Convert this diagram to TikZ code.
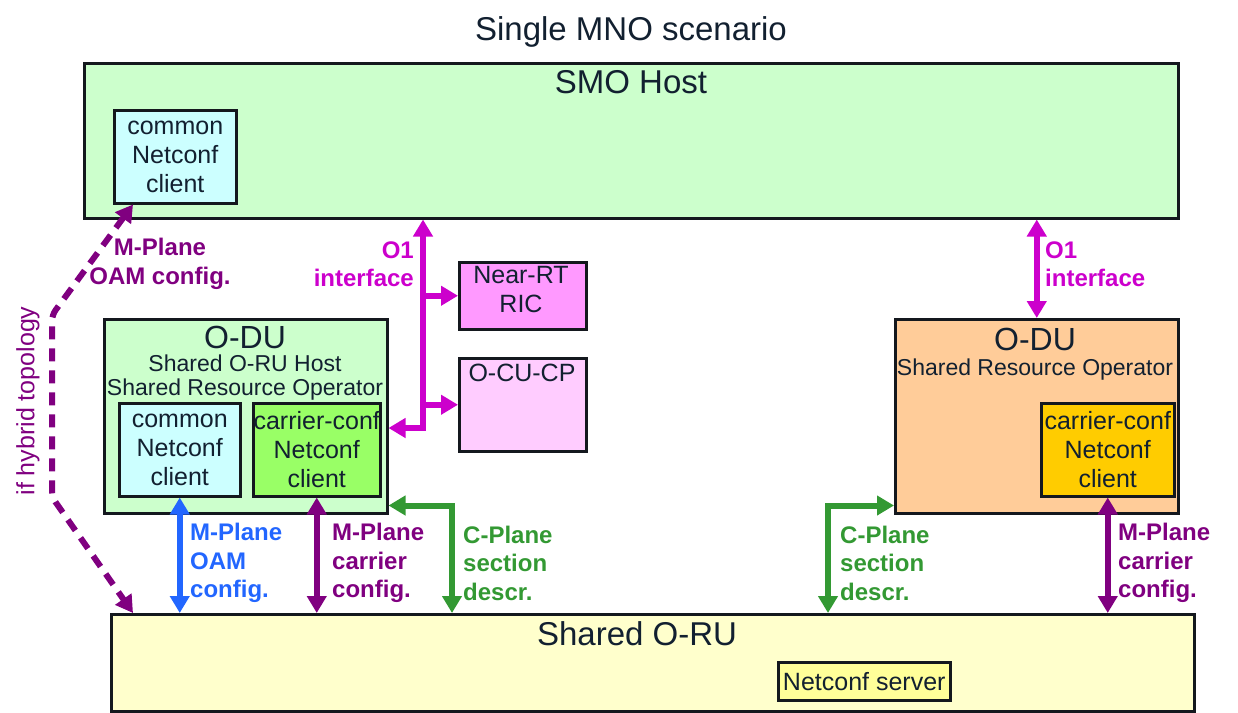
\documentclass[tikz,border=0pt]{standalone}
\usepackage{fontspec}
\setmainfont{Liberation Sans}
\usetikzlibrary{arrows.meta}
\definecolor{txt}{RGB}{18,32,48}
\definecolor{boxline}{RGB}{20,24,30}
\definecolor{mag}{RGB}{204,0,204}
\definecolor{plum}{RGB}{128,0,128}
\definecolor{blu}{RGB}{34,102,255}
\definecolor{grn}{RGB}{51,153,51}
\definecolor{fgreen}{RGB}{204,255,204}
\definecolor{fcyan}{RGB}{204,255,255}
\definecolor{flime}{RGB}{153,255,102}
\definecolor{fpink}{RGB}{255,153,255}
\definecolor{flpink}{RGB}{255,204,255}
\definecolor{forange}{RGB}{255,204,153}
\definecolor{fgold}{RGB}{255,204,0}
\definecolor{fcream}{RGB}{255,255,204}
\definecolor{fyellow}{RGB}{255,255,153}
\newcommand{\fsbig}{\fontsize{33}{38}\selectfont}
\newcommand{\fsodu}{\fontsize{32}{36}\selectfont}
\newcommand{\fsbox}{\fontsize{25}{29}\selectfont}
\newcommand{\fssub}{\fontsize{23}{24}\selectfont}
\newcommand{\fslab}{\fontsize{24}{28.5}\selectfont\bfseries}
\tikzset{
  box/.style={draw=boxline, line width=2.5pt, inner sep=0pt, text=txt, align=center, anchor=north west},
  txtnode/.style={inner sep=0pt, text=txt, align=center},
  lab/.style={inner sep=0pt, font=\fslab},
  dbl/.style={line width=6pt, >={Triangle[length=17pt,width=19pt]}, <->},
  sgl/.style={line width=6pt, >={Triangle[length=17pt,width=19pt]}, ->},
}
\begin{document}
\begin{tikzpicture}[x=1pt,y=-1pt]
\useasboundingbox (0,0) rectangle (1238,712);

% title
\node[txtnode, font=\fsbig] (title) at (631,32) {Single MNO scenario};

% SMO host
\node[box, fill=fgreen, minimum width=1094pt, minimum height=155pt] (smo) at (83,62) {};
\node[txtnode, font=\fsbig] (smolab) at (631,82) {SMO Host};
\node[box, fill=fcyan, minimum width=122pt, minimum height=93pt, font=\fsbox] (smoc) at (113,109) {common\\Netconf\\client};

% RIC and CU
\node[box, fill=fpink, minimum width=127pt, minimum height=67pt] (ric) at (458,261) {};
\node[txtnode, font=\fsbox] (riclab) at (521,290) {Near-RT\\RIC};
\node[box, fill=flpink, minimum width=127pt, minimum height=93pt] (cu) at (458,357) {};
\node[txtnode, font=\fsbox] (culab) at (522,373) {O-CU-CP};

% left O-DU
\node[box, fill=fgreen, minimum width=283pt, minimum height=194pt] (oduL) at (103,318) {};
\node[txtnode, font=\fsodu] (oduLlab) at (245,337) {O-DU};
\node[txtnode, font=\fssub] (oduLsub) at (245,378) {Shared O-RU Host\\Shared Resource Operator};
\node[box, fill=fcyan, minimum width=121pt, minimum height=93pt, font=\fsbox] (oducL) at (118,402) {common\\Netconf\\client};
\node[box, fill=flime, minimum width=127pt, minimum height=93pt, font=\fsbox] (ocarL) at (252,402) {carrier-conf\\Netconf\\client};

% right O-DU
\node[box, fill=forange, minimum width=283pt, minimum height=194pt] (oduR) at (894,318) {};
\node[txtnode, font=\fsodu] (oduRlab) at (1035,339) {O-DU};
\node[txtnode, font=\fssub] (oduRsub) at (1035,370) {Shared Resource Operator};
\node[box, fill=fgold, minimum width=133pt, minimum height=93pt, font=\fsbox] (ocarR) at (1040,402) {carrier-conf\\Netconf\\client};

% shared O-RU
\node[box, fill=fcream, minimum width=1083pt, minimum height=97pt] (oru) at (110,613) {};
\node[txtnode, font=\fsbig] (orulab) at (637,634) {Shared O-RU};
\node[box, fill=fyellow, minimum width=172pt, minimum height=38pt, font=\fsbox] (ncs) at (777,661) {Netconf server};

% O1 bus (left)
\coordinate (bj) at (423,428);
\draw[mag, dbl, line join=miter] (bj |- smo.south) -- (bj) -- (oduL.east |- bj);
\draw[mag, sgl] (bj |- ric.west) -- (ric.west);
\draw[mag, sgl] (bj |- cu.west) -- (cu.west);
\node[lab, text=mag, align=right, anchor=east] (o1L) at (414,264) {O1\\interface};

% O1 right
\draw[mag, dbl] (oduR.north) -- (oduR.north |- smo.south);
\node[lab, text=mag, align=left, anchor=west] (o1R) at (1045,264) {O1\\interface};

% dashed hybrid M-Plane
\coordinate (d1) at (52,315);
\coordinate (d2) at (52,497);
\draw[plum, dbl, dash pattern=on 13pt off 9pt, rounded corners=6pt]
  ([xshift=20pt]smoc.south west) -- (d1) -- (d2) -- ([xshift=23pt]oru.north west);
\node[lab, text=plum, align=center] (mpoam) at (160,264) {M-Plane\\OAM config.};
\node[inner sep=0pt, text=plum, font=\fsbox, rotate=90] (hyb) at (28,401) {if hybrid topology};

% left lower connectors
\draw[blu, dbl] (oducL.south) -- (oducL.south |- oru.north);
\node[lab, text=blu, align=left, anchor=west] (lb1) at (190,563) {M-Plane\\OAM\\config.};
\draw[plum, dbl] (ocarL.south) -- (ocarL.south |- oru.north);
\node[lab, text=plum, align=left, anchor=west] (lb2) at (332,563) {M-Plane\\carrier\\config.};
\draw[grn, dbl, line join=miter] ([yshift=9pt]oduL.south east) -| ([xshift=342pt]oru.north west);
\node[lab, text=grn, align=left, anchor=west] (lb3) at (463,563) {C-Plane\\section\\descr.};

% right lower connectors
\draw[grn, dbl, line join=miter] ([yshift=9pt]oduR.south west) -| ([xshift=718pt]oru.north west);
\node[lab, text=grn, align=left, anchor=west] (lb4) at (840,563) {C-Plane\\section\\descr.};
\draw[plum, dbl] (ocarR.south) -- (ocarR.south |- oru.north);
\node[lab, text=plum, align=left, anchor=west] (lb5) at (1118,563) {M-Plane\\carrier\\config.};
\end{tikzpicture}
\end{document}
